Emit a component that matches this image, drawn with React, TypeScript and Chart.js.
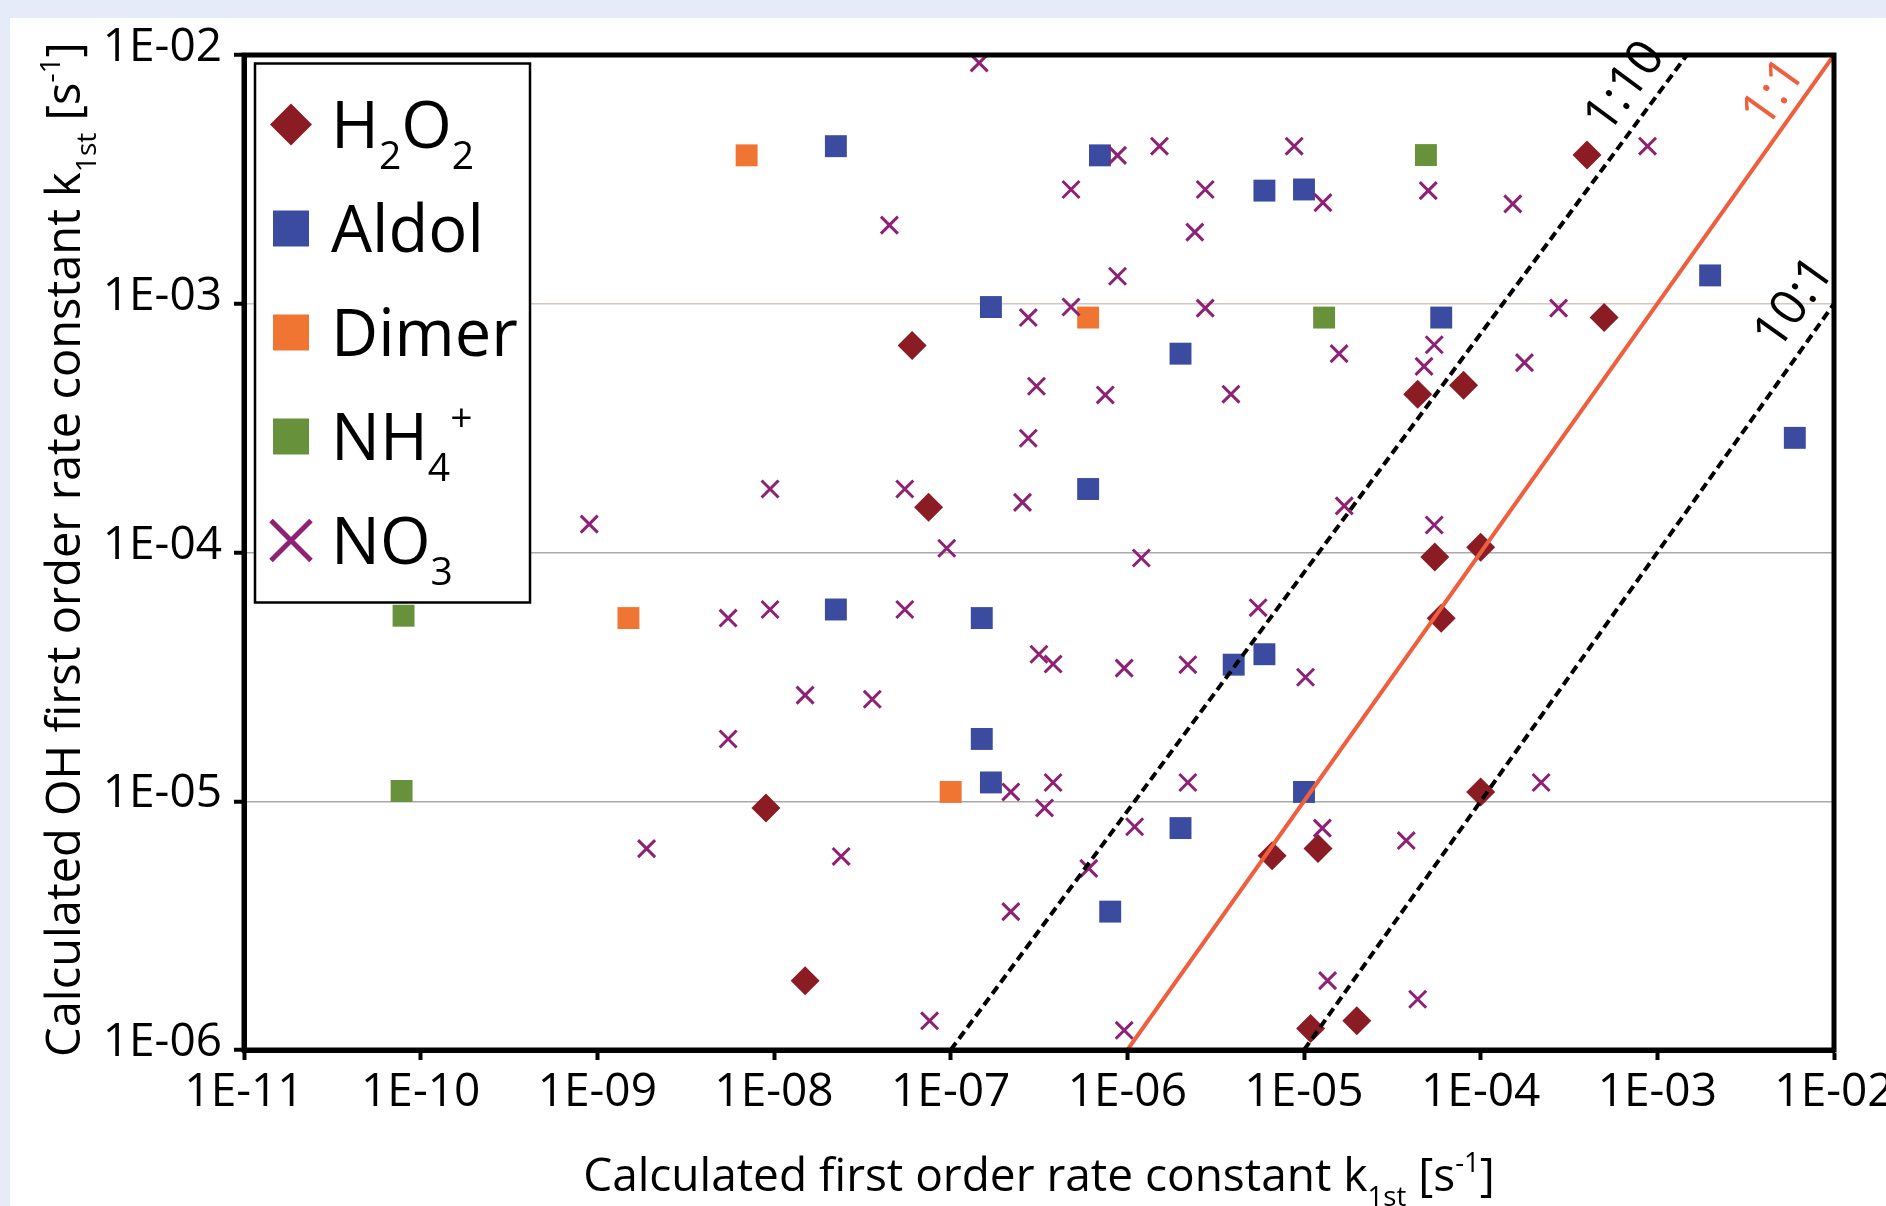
import React, { useEffect, useRef } from 'react';
import { Chart, registerables } from 'chart.js';

Chart.register(...registerables);

const FONT = '"Open Sans", "Noto Sans", "DejaVu Sans", sans-serif';

// ---------------- data ----------------
const seriesNames = ['H2O2', 'Aldol', 'Dimer', 'NH4+', 'NO3'];
const seriesColors = ['#8b1c24', '#3b4ba0', '#f07533', '#67913a', '#8e2174'];

const h2o2X = [6.05e-8, 7.5e-8, 9.0e-9, 1.5e-8, 4.0e-4, 5.0e-4, 4.4e-5, 8.0e-5, 5.5e-5, 1.0e-4, 5.98e-5, 1.0e-4, 6.6e-6, 1.2e-5, 1.99e-5, 1.09e-5];
const h2o2Y = [6.8e-4, 1.52e-4, 9.4e-6, 1.9e-6, 3.96e-3, 8.8e-4, 4.33e-4, 4.7e-4, 9.6e-5, 1.05e-4, 5.44e-5, 1.09e-5, 6.04e-6, 6.45e-6, 1.31e-6, 1.22e-6];

const aldolX = [2.24e-8, 7.0e-7, 5.97e-6, 1.0e-5, 1.69e-7, 5.98e-5, 2.0e-6, 1.99e-3, 6.0e-3, 6.0e-7, 2.24e-8, 1.5e-7, 4.0e-6, 5.97e-6, 1.5e-7, 1.69e-7, 1.0e-5, 2.0e-6, 8.0e-7];
const aldolY = [4.3e-3, 3.95e-3, 2.85e-3, 2.88e-3, 9.7e-4, 8.8e-4, 6.3e-4, 1.3e-3, 2.89e-4, 1.8e-4, 5.9e-5, 5.45e-5, 3.54e-5, 3.9e-5, 1.78e-5, 1.19e-5, 1.09e-5, 7.8e-6, 3.6e-6];

const dimerX = [7.0e-9, 6.0e-7, 1.5e-9, 1.0e-7];
const dimerY = [3.95e-3, 8.8e-4, 5.45e-5, 1.09e-5];

const nh4X = [4.9e-5, 1.3e-5, 8.0e-11, 7.8e-11];
const nh4Y = [3.96e-3, 8.8e-4, 5.57e-5, 1.1e-5];

const no3X = [
  1.45e-7, 8.8e-7, 1.52e-6, 8.8e-6, 8.8e-4, 4.8e-7, 2.76e-6, 1.28e-5, 5.05e-5, 1.52e-4,
  4.5e-8, 2.41e-6, 8.8e-7, 2.75e-7, 4.8e-7, 2.76e-6, 2.76e-4, 1.58e-5, 5.46e-5, 4.78e-5,
  1.77e-4, 3.06e-7, 7.5e-7, 3.86e-6, 2.75e-7, 9.5e-9, 5.5e-8, 2.55e-7, 1.69e-5, 9.0e-10,
  5.46e-5, 9.5e-8, 1.2e-6, 5.5e-6, 5.5e-9, 9.5e-9, 5.5e-8, 3.16e-7, 3.8e-7, 9.6e-7,
  2.2e-6, 1.02e-5, 1.5e-8, 3.6e-8, 5.5e-9, 2.19e-7, 3.8e-7, 2.2e-6, 2.2e-4, 3.4e-7,
  1.1e-6, 1.27e-5, 3.79e-5, 1.9e-9, 2.4e-8, 6.05e-7, 2.19e-7, 1.36e-5, 4.4e-5, 7.6e-8,
  9.6e-7,
];
const no3Y = [
  9.3e-3, 3.95e-3, 4.3e-3, 4.3e-3, 4.3e-3, 2.88e-3, 2.88e-3, 2.55e-3, 2.85e-3, 2.52e-3,
  2.07e-3, 1.94e-3, 1.29e-3, 8.8e-4, 9.7e-4, 9.6e-4, 9.6e-4, 6.3e-4, 6.84e-4, 5.6e-4,
  5.8e-4, 4.66e-4, 4.3e-4, 4.33e-4, 2.88e-4, 1.8e-4, 1.8e-4, 1.59e-4, 1.54e-4, 1.3e-4,
  1.29e-4, 1.04e-4, 9.5e-5, 6.0e-5, 5.45e-5, 5.9e-5, 5.9e-5, 3.9e-5, 3.56e-5, 3.43e-5,
  3.54e-5, 3.15e-5, 2.67e-5, 2.57e-5, 1.78e-5, 1.09e-5, 1.19e-5, 1.19e-5, 1.19e-5, 9.4e-6,
  7.9e-6, 7.8e-6, 6.95e-6, 6.45e-6, 6.0e-6, 5.37e-6, 3.6e-6, 1.9e-6, 1.6e-6, 1.31e-6,
  1.2e-6,
];

const ratioNames = ['1:10', '1:1', '10:1'];
const ratioColors = ['#000000', '#ee5f3e', '#000000'];
const ratio110X = [1e-7, 1.47e-3];
const ratio110Y = [1e-6, 1e-2];
const ratio11X = [1e-6, 1e-2];
const ratio11Y = [1e-6, 1e-2];
const ratio101X = [1e-5, 1e-2];
const ratio101Y = [1e-6, 1e-3];
const ratioLabelX = [6.6e-4, 4.6e-3, 6.0e-3];
const ratioLabelY = [7.4e-3, 7.0e-3, 1.0e-3];

const xTickValues = [1e-11, 1e-10, 1e-9, 1e-8, 1e-7, 1e-6, 1e-5, 1e-4, 1e-3, 1e-2];
const xTickLabels = ['1E-11', '1E-10', '1E-09', '1E-08', '1E-07', '1E-06', '1E-05', '1E-04', '1E-03', '1E-02'];
const yTickValues = [1e-6, 1e-5, 1e-4, 1e-3, 1e-2];
const yTickLabels = ['1E-06', '1E-05', '1E-04', '1E-03', '1E-02'];

// ---------------- rich text ----------------
type Seg = { t: string; k?: 'sub' | 'sup' };

const legendRich: Seg[][] = [
  [{ t: 'H' }, { t: '2', k: 'sub' }, { t: 'O' }, { t: '2', k: 'sub' }],
  [{ t: 'Aldol' }],
  [{ t: 'Dimer' }],
  [{ t: 'NH' }, { t: '4', k: 'sub' }, { t: '+', k: 'sup' }],
  [{ t: 'NO' }, { t: '3', k: 'sub' }],
];
const xTitle: Seg[] = [
  { t: 'Calculated first order rate constant k' }, { t: '1st', k: 'sub' }, { t: ' [s' }, { t: '-1', k: 'sup' }, { t: ']' },
];
const yTitle: Seg[] = [
  { t: 'Calculated OH first order rate constant k' }, { t: '1st', k: 'sub' }, { t: ' [s' }, { t: '-1', k: 'sup' }, { t: ']' },
];

type RichOpts = { ratio: number; subDy: number; supDy: number };

function segFont(size: number, k: string | undefined, ratio: number) {
  return `${k ? size * ratio : size}px ${FONT}`;
}
function richWidth(ctx: CanvasRenderingContext2D, segs: Seg[], size: number, o: RichOpts) {
  let w = 0;
  for (const s of segs) {
    ctx.font = segFont(size, s.k, o.ratio);
    w += ctx.measureText(s.t).width;
  }
  return w;
}
function drawRich(ctx: CanvasRenderingContext2D, segs: Seg[], x: number, y: number, size: number, align: 'left' | 'center', o: RichOpts) {
  ctx.textAlign = 'left';
  ctx.textBaseline = 'alphabetic';
  let cx = align === 'center' ? x - richWidth(ctx, segs, size, o) / 2 : x;
  for (const s of segs) {
    ctx.font = segFont(size, s.k, o.ratio);
    const dy = s.k === 'sub' ? size * o.subDy : s.k === 'sup' ? -size * o.supDy : 0;
    ctx.fillText(s.t, cx, y + dy);
    cx += ctx.measureText(s.t).width;
  }
}

function zip(xs: number[], ys: number[]) {
  return xs.map((x, i) => ({ x, y: ys[i] }));
}

const ratioSets = [
  { x: ratio110X, y: ratio110Y },
  { x: ratio11X, y: ratio11Y },
  { x: ratio101X, y: ratio101Y },
];

const decorPlugin = {
  id: 'decor',
  afterDraw(chart: any) {
    const { ctx, chartArea: a, scales } = chart;
    const xs = scales.x;
    const ys = scales.y;

    // ratio labels, rotated along their lines
    ratioSets.forEach((ln, i) => {
      const x1 = xs.getPixelForValue(ln.x[0]);
      const y1 = ys.getPixelForValue(ln.y[0]);
      const x2 = xs.getPixelForValue(ln.x[1]);
      const y2 = ys.getPixelForValue(ln.y[1]);
      const ang = Math.atan2(y2 - y1, x2 - x1);
      const px = xs.getPixelForValue(ratioLabelX[i]);
      const py = ys.getPixelForValue(ratioLabelY[i]);
      ctx.save();
      ctx.translate(px, py);
      ctx.rotate(ang);
      ctx.font = `50px ${FONT}`;
      ctx.fillStyle = ratioColors[i];
      ctx.textAlign = 'center';
      ctx.textBaseline = 'middle';
      ctx.fillText(ratioNames[i], 0, 0);
      ctx.restore();
    });

    // plot frame
    ctx.save();
    ctx.strokeStyle = '#000';
    ctx.lineWidth = 5;
    ctx.strokeRect(a.left, a.top, a.right - a.left, a.bottom - a.top);
    ctx.restore();

    // legend
    const lx = a.left + 11;
    const ly = a.top + 8.5;
    const lw = 275;
    const lh = 539;
    ctx.save();
    ctx.fillStyle = '#fff';
    ctx.fillRect(lx, ly, lw, lh);
    ctx.strokeStyle = '#000';
    ctx.lineWidth = 2.5;
    ctx.strokeRect(lx, ly, lw, lh);
    const lOpts: RichOpts = { ratio: 0.6, subDy: 0.33, supDy: 0.44 };
    seriesNames.forEach((_, i) => {
      const base = ly + 84 + 104 * i;
      const mx = lx + 36;
      const my = base - 23;
      const col = seriesColors[i];
      ctx.fillStyle = col;
      ctx.strokeStyle = col;
      if (i === 0) {
        ctx.beginPath();
        ctx.moveTo(mx, my - 21);
        ctx.lineTo(mx + 21, my);
        ctx.lineTo(mx, my + 21);
        ctx.lineTo(mx - 21, my);
        ctx.closePath();
        ctx.fill();
      } else if (i === 4) {
        ctx.lineWidth = 5;
        ctx.beginPath();
        ctx.moveTo(mx - 20, my - 20);
        ctx.lineTo(mx + 20, my + 20);
        ctx.moveTo(mx + 20, my - 20);
        ctx.lineTo(mx - 20, my + 20);
        ctx.stroke();
      } else {
        ctx.fillRect(mx - 18, my - 18, 36, 36);
      }
      ctx.fillStyle = '#000';
      drawRich(ctx, legendRich[i], lx + 76, base, 65, 'left', lOpts);
    });
    ctx.restore();

    // axis titles
    const tOpts: RichOpts = { ratio: 0.6, subDy: 0.33, supDy: 0.42 };
    ctx.save();
    ctx.fillStyle = '#000';
    drawRich(ctx, xTitle, (a.left + a.right) / 2, a.bottom + 141, 46, 'center', tOpts);
    ctx.translate(80, (a.top + a.bottom) / 2 - 3);
    ctx.rotate(-Math.PI / 2);
    drawRich(ctx, yTitle, 0, 0, 47, 'center', tOpts);
    ctx.restore();
  },
};

export default function App() {
  const ref = useRef<HTMLCanvasElement>(null);

  useEffect(() => {
    const canvas = ref.current;
    if (!canvas) return;
    const pointSets = [
      { xs: h2o2X, ys: h2o2Y, style: 'rectRot', r: 14.5, bw: 0 },
      { xs: aldolX, ys: aldolY, style: 'rect', r: 15.5, bw: 0 },
      { xs: dimerX, ys: dimerY, style: 'rect', r: 15.5, bw: 0 },
      { xs: nh4X, ys: nh4Y, style: 'rect', r: 15.5, bw: 0 },
      { xs: no3X, ys: no3Y, style: 'crossRot', r: 12, bw: 3 },
    ];
    const datasets: any[] = pointSets.map((p, i) => ({
      label: seriesNames[i],
      data: zip(p.xs, p.ys),
      pointStyle: p.style,
      pointRadius: p.r,
      pointHoverRadius: p.r,
      pointBorderWidth: p.bw,
      backgroundColor: seriesColors[i],
      borderColor: seriesColors[i],
      borderWidth: p.bw,
      showLine: false,
      order: 5 - i,
    }));
    ratioSets.forEach((ln, i) => {
      datasets.push({
        label: ratioNames[i],
        data: zip(ln.x, ln.y),
        showLine: true,
        pointRadius: 0,
        borderColor: i === 1 ? ratioColors[1] : '#000',
        borderWidth: 4,
        borderDash: i === 1 ? [] : [9, 5],
        fill: false,
        order: 0,
      });
    });

    const chart = new Chart(canvas, {
      type: 'scatter',
      data: { datasets },
      options: {
        animation: false,
        responsive: false,
        devicePixelRatio: 1,
        layout: { padding: { left: 0, top: 55, right: 52, bottom: 0 } },
        plugins: { legend: { display: false }, tooltip: { enabled: false } },
        scales: {
          x: {
            type: 'logarithmic',
            position: 'bottom',
            min: 1e-11,
            max: 1e-2,
            afterBuildTicks: (s: any) => {
              s.ticks = xTickValues.map((v) => ({ value: v }));
            },
            afterFit: (s: any) => {
              s.height = 156;
              s.paddingLeft = 0;
              s.paddingRight = 0;
            },
            ticks: {
              callback: (_v: any, i: number) => xTickLabels[i],
              font: { family: FONT, size: 46 },
              color: '#000',
              padding: 5,
              maxRotation: 0,
              minRotation: 0,
              autoSkip: false,
            },
            grid: {
              drawOnChartArea: false,
              color: '#000',
              tickColor: '#000',
              tickLength: 10,
              tickWidth: 4,
            },
            border: { display: true, color: '#000', width: 5 },
          },
          y: {
            type: 'logarithmic',
            position: 'left',
            min: 1e-6,
            max: 1e-2,
            afterBuildTicks: (s: any) => {
              s.ticks = yTickValues.map((v) => ({ value: v }));
            },
            afterFit: (s: any) => {
              s.width = 244;
              s.paddingTop = 0;
              s.paddingBottom = 0;
            },
            ticks: {
              callback: (_v: any, i: number) => yTickLabels[i],
              font: { family: FONT, size: 46 },
              color: '#000',
              padding: 12,
              labelOffset: -7,
              autoSkip: false,
            },
            grid: {
              drawOnChartArea: true,
              color: (c: any) => (c.tick && c.tick.value === 1e-3 ? '#d4c8c0' : '#a9a9a9'),
              lineWidth: 1.5,
              tickColor: '#000',
              tickLength: 10,
              tickWidth: 4,
            },
            border: { display: true, color: '#000', width: 5 },
          },
        },
      } as any,
      plugins: [decorPlugin],
    });
    return () => chart.destroy();
  }, []);

  return (
    <div style={{ position: 'absolute', left: 0, top: 0, width: 1886, height: 1206, background: '#e5ebf9', overflow: 'hidden' }}>
      <div style={{ position: 'absolute', left: 10, top: 18, right: 0, bottom: 0, background: '#ffffff' }} />
      <canvas
        ref={ref}
        width={1886}
        height={1206}
        style={{ position: 'absolute', left: 0, top: 0, width: 1886, height: 1206 }}
      />
    </div>
  );
}
